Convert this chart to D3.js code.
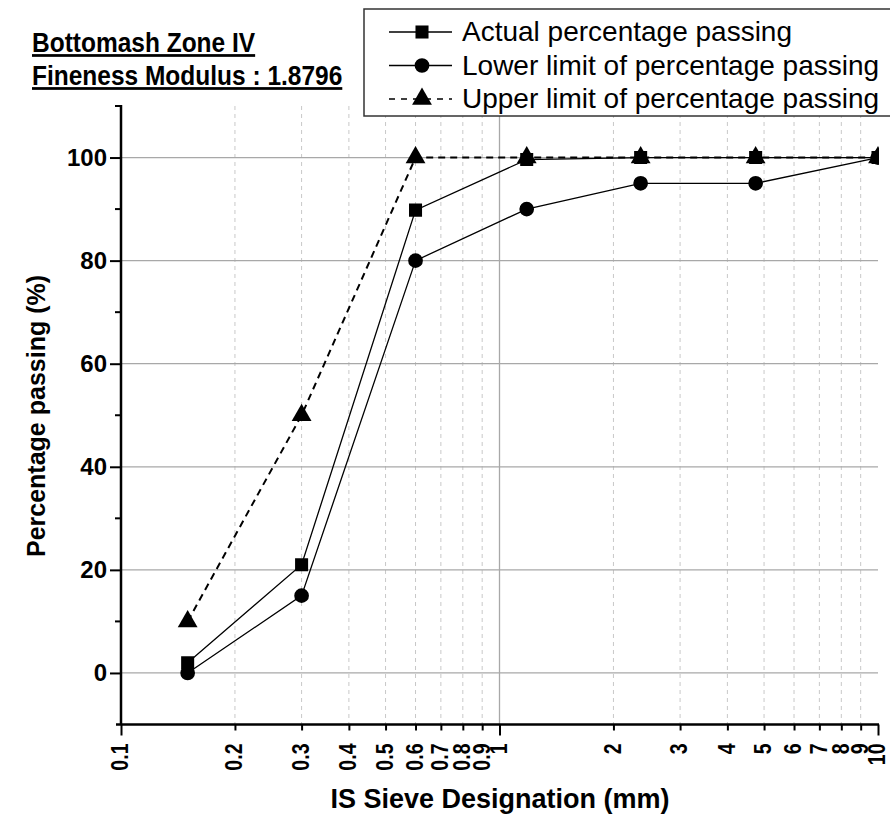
<!DOCTYPE html>
<html>
<head>
<meta charset="utf-8">
<script src="https://cdn.jsdelivr.net/npm/d3@7"></script>
<style>
  body { margin: 0; background: #fff; }
  svg { display: block; font-family: "Liberation Sans", Arial, sans-serif; }
</style>
</head>
<body>
<svg id="chart" width="890" height="818"></svg>
<script>
// sieve data (mm, % passing)
const sieveSizes = [0.15, 0.3, 0.6, 1.18, 2.36, 4.75, 10];
const actualPassing = [2, 21, 89.8, 99.6, 100, 100, 100];
const lowerLimit = [0, 15, 80, 90, 95, 95, 100];
const upperLimit = [10, 50, 100, 100, 100, 100, 100];

const xTickValues = [0.1, 0.2, 0.3, 0.4, 0.5, 0.6, 0.7, 0.8, 0.9, 1, 2, 3, 4, 5, 6, 7, 8, 9, 10];
const xMajorTicks = [0.1, 1, 10];
const yTickValues = [0, 20, 40, 60, 80, 100];
const yMinorTicks = [10, 30, 50, 70, 90, 110];

const titleLines = ['Bottomash Zone IV', 'Fineness Modulus : 1.8796'];
const seriesNames = [
	'Actual percentage passing',
	'Lower limit of percentage passing',
	'Upper limit of percentage passing',
];

const svg = d3.select('#chart');

const plotLeft = 121, plotRight = 878, plotTop = 106, plotBottom = 724.5;

const x = d3.scaleLog().domain([0.1, 10]).range([plotLeft, plotRight]);
const y = d3.scaleLinear().domain([-10, 110]).range([plotBottom, plotTop]);

//grid
const grid = svg.append('g');
grid.selectAll('.vminor')
	.data(xTickValues.filter((d) => !xMajorTicks.includes(d)))
	.join('line')
	.attr('x1', (d) => x(d))
	.attr('x2', (d) => x(d))
	.attr('y1', plotTop)
	.attr('y2', plotBottom)
	.attr('stroke', '#c8c8c8')
	.attr('stroke-dasharray', '4,4');
grid.append('line')
	.attr('x1', x(1))
	.attr('x2', x(1))
	.attr('y1', plotTop)
	.attr('y2', plotBottom)
	.attr('stroke', '#a8a8a8')
	.attr('stroke-width', 1.3);
grid.selectAll('.hmajor')
	.data(yTickValues)
	.join('line')
	.attr('x1', plotLeft)
	.attr('x2', plotRight)
	.attr('y1', (d) => y(d))
	.attr('y2', (d) => y(d))
	.attr('stroke', '#a8a8a8')
	.attr('stroke-width', 1.3);

//axes
const xAxis = svg.append('g')
	.attr('transform', `translate(0,${plotBottom})`)
	.call(d3.axisBottom(x).tickValues(xTickValues).tickFormat((d) => String(d)).tickSizeOuter(0).tickSize(6));
xAxis.select('.domain').attr('stroke-width', 2.5).attr('d', `M${plotLeft - 5},0H${plotRight + 1}`);
xAxis.selectAll('.tick line')
	.attr('stroke-width', 2)
	.attr('y2', (d) => (xMajorTicks.includes(d) ? 11 : 6));
xAxis.selectAll('.tick text')
	.attr('font-size', 23)
	.attr('font-weight', 'bold')
	.attr('fill', '#000')
	.attr('text-anchor', 'end')
	.attr('transform', 'rotate(-90) scale(0.85,1)')
	.attr('x', -19 / 0.85)
	.attr('y', 0)
	.attr('dy', '0.3em');

const yAxis = svg.append('g')
	.attr('transform', `translate(${plotLeft},0)`)
	.call(d3.axisLeft(y).tickValues(yTickValues).tickSizeOuter(0).tickSize(11).tickPadding(3));
yAxis.select('.domain').attr('stroke-width', 2.5).attr('d', `M0,${plotTop - 1}V${plotBottom}`);
yAxis.selectAll('.tick line').attr('stroke-width', 2);
yAxis.selectAll('.tick text')
	.attr('font-size', 24)
	.attr('font-weight', 'bold')
	.attr('fill', '#000');
yAxis.selectAll('.minor')
	.data(yMinorTicks)
	.join('line')
	.attr('x1', -6)
	.attr('x2', 0)
	.attr('y1', (d) => y(d))
	.attr('y2', (d) => y(d))
	.attr('stroke', '#000')
	.attr('stroke-width', 2);

//axis titles
svg.append('text')
	.attr('x', 500)
	.attr('y', 808)
	.attr('text-anchor', 'middle')
	.attr('font-size', 27)
	.attr('font-weight', 'bold')
	.text('IS Sieve Designation (mm)');
svg.append('text')
	.attr('transform', 'translate(45,416) rotate(-90)')
	.attr('text-anchor', 'middle')
	.attr('font-size', 25)
	.attr('font-weight', 'bold')
	.text('Percentage passing (%)');

//series
svg.append('clipPath')
	.attr('id', 'plotClip')
	.append('rect')
	.attr('x', plotLeft)
	.attr('y', plotTop)
	.attr('width', plotRight - plotLeft + 1)
	.attr('height', plotBottom - plotTop);

const plot = svg.append('g').attr('clip-path', 'url(#plotClip)');
const line = d3.line()
	.x((d) => x(d[0]))
	.y((d) => y(d[1]));

const series = [
	{ values: actualPassing, symbol: d3.symbolSquare, size: 170, dash: null, width: 1.3 },
	{ values: lowerLimit, symbol: d3.symbolCircle, size: 170, dash: null, width: 1.3 },
	{ values: upperLimit, symbol: d3.symbolTriangle, size: 170, dash: '7,5', width: 2 },
];

series.forEach((s) => {
	const pts = sieveSizes.map((d, i) => [d, s.values[i]]);
	plot.append('path')
		.attr('d', line(pts))
		.attr('fill', 'none')
		.attr('stroke', '#000')
		.attr('stroke-width', s.width)
		.attr('stroke-dasharray', s.dash);
	plot.selectAll(null)
		.data(pts)
		.join('path')
		.attr('transform', (d) => `translate(${x(d[0])},${y(d[1])})`)
		.attr('d', d3.symbol().type(s.symbol).size(s.size))
		.attr('fill', '#000');
});

//title
titleLines.forEach((t, i) => {
	svg.append('text')
		.attr('transform', `translate(32,${52 + i * 33}) scale(1,1.12)`)
		.attr('font-size', 24.5)
		.attr('font-weight', 'bold')
		.attr('text-decoration', 'underline')
		.text(t);
});

//legend
const legend = svg.append('g');
legend.append('rect')
	.attr('x', 364)
	.attr('y', 9)
	.attr('width', 540)
	.attr('height', 107)
	.attr('fill', '#fff')
	.attr('stroke', '#333')
	.attr('stroke-width', 1.5);

seriesNames.forEach((name, i) => {
	const s = series[i];
	const cy = 32 + i * 33.5;
	legend.append('line')
		.attr('x1', 389)
		.attr('x2', 452)
		.attr('y1', cy)
		.attr('y2', cy)
		.attr('stroke', '#000')
		.attr('stroke-width', s.width === 2 ? 1.5 : 1.3)
		.attr('stroke-dasharray', s.dash ? '6,6' : null);
	legend.append('path')
		.attr('transform', `translate(422,${cy})`)
		.attr('d', d3.symbol().type(s.symbol).size(s.size))
		.attr('fill', '#000');
	legend.append('text')
		.attr('x', 462)
		.attr('y', cy + 9)
		.attr('font-size', 28)
		.text(name);
});
</script>
</body>
</html>
